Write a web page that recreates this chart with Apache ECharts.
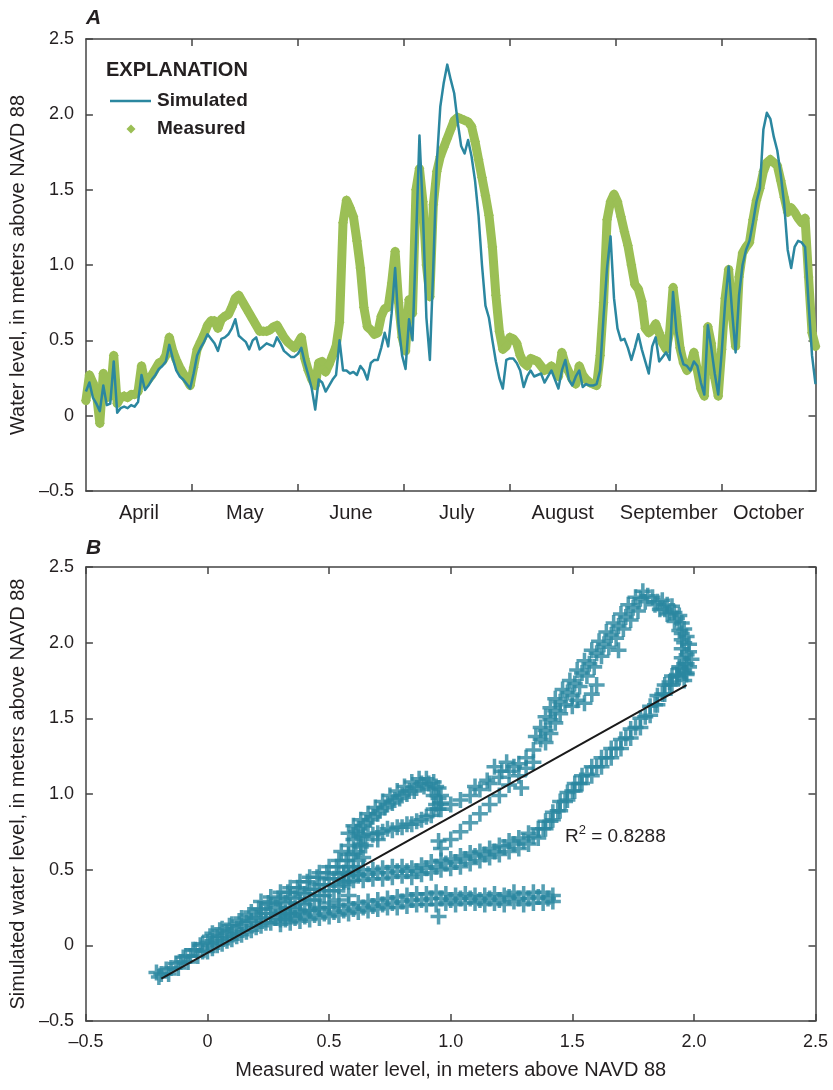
<!DOCTYPE html>
<html><head><meta charset="utf-8">
<script src="https://cdn.jsdelivr.net/npm/echarts@6/dist/echarts.min.js"></script>
<style>html,body{margin:0;padding:0;background:#fff}#c{width:833px;height:1090px}</style>
</head><body><div id="c"></div>
<script>
// ---- data: panel A ----
const monthLabels = ['April','May','June','July','August','September','October'];
const monthTickDays = [30.5, 61, 91.5, 122, 152.5, 183];
const monthLabelDays = [15.25, 45.75, 76.25, 106.75, 137.25, 167.75, 196.5];

// daily values, day 0 = start of April
const simulated = [
0.16,0.22,0.12,0.08,0.03,0.20,0.07,0.08,0.36,0.02,
0.05,0.06,0.05,0.07,0.06,0.09,0.27,0.17,0.20,0.24,
0.27,0.31,0.33,0.36,0.47,0.38,0.30,0.26,0.24,0.21,
0.18,0.28,0.40,0.45,0.49,0.54,0.51,0.48,0.43,0.51,
0.52,0.54,0.58,0.64,0.53,0.51,0.49,0.44,0.50,0.52,
0.44,0.46,0.48,0.47,0.46,0.52,0.48,0.43,0.41,0.39,
0.39,0.41,0.45,0.35,0.27,0.18,0.04,0.24,0.22,0.16,
0.20,0.24,0.27,0.50,0.30,0.30,0.28,0.29,0.27,0.33,
0.30,0.24,0.35,0.37,0.37,0.45,0.55,0.46,0.68,0.98,
0.60,0.40,0.31,0.64,0.50,1.15,1.86,1.35,0.65,0.37,
1.00,1.68,2.05,2.21,2.33,2.23,2.14,1.95,1.79,1.74,
1.83,1.72,1.56,1.33,1.00,0.73,0.65,0.50,0.36,0.25,
0.18,0.37,0.38,0.38,0.35,0.30,0.19,0.26,0.30,0.26,
0.27,0.28,0.22,0.26,0.30,0.24,0.18,0.30,0.37,0.24,
0.20,0.26,0.30,0.19,0.21,0.20,0.20,0.21,0.30,0.66,
0.98,1.19,0.78,0.58,0.50,0.51,0.45,0.37,0.45,0.54,
0.44,0.36,0.28,0.46,0.52,0.36,0.39,0.42,0.37,0.82,
0.55,0.42,0.34,0.33,0.30,0.36,0.33,0.22,0.14,0.60,
0.45,0.28,0.14,0.42,0.75,0.99,0.69,0.42,0.80,1.00,
1.10,1.16,1.28,1.42,1.51,1.90,2.01,1.97,1.85,1.76,
1.60,1.40,1.10,0.98,1.12,1.16,1.15,1.12,0.75,0.40,
0.21];

const measured = [
0.10,0.27,0.22,0.15,-0.05,0.28,0.12,0.13,0.40,0.08,
0.12,0.13,0.12,0.14,0.14,0.16,0.33,0.22,0.24,0.27,
0.31,0.35,0.36,0.40,0.52,0.43,0.37,0.32,0.28,0.24,
0.20,0.32,0.44,0.49,0.54,0.60,0.63,0.63,0.58,0.64,
0.66,0.67,0.72,0.78,0.80,0.76,0.72,0.68,0.64,0.60,
0.56,0.56,0.56,0.57,0.59,0.60,0.56,0.52,0.49,0.47,
0.45,0.48,0.52,0.38,0.30,0.24,0.20,0.35,0.36,0.29,
0.34,0.40,0.46,0.62,1.28,1.43,1.38,1.32,1.16,0.98,
0.72,0.59,0.57,0.54,0.55,0.66,0.71,0.72,0.88,1.09,
0.75,0.52,0.43,0.77,0.68,1.50,1.64,1.42,1.00,0.79,
1.40,1.62,1.72,1.78,1.84,1.90,1.96,1.98,1.97,1.96,
1.95,1.92,1.82,1.70,1.58,1.46,1.33,1.12,0.80,0.56,
0.44,0.46,0.52,0.51,0.48,0.40,0.35,0.33,0.38,0.37,
0.36,0.33,0.30,0.31,0.33,0.30,0.26,0.42,0.34,0.29,
0.24,0.21,0.33,0.27,0.24,0.22,0.21,0.20,0.40,0.75,
1.30,1.42,1.47,1.42,1.32,1.22,1.13,1.00,0.87,0.84,
0.76,0.58,0.55,0.57,0.61,0.55,0.48,0.44,0.55,0.85,
0.66,0.45,0.35,0.30,0.34,0.42,0.30,0.18,0.13,0.59,
0.48,0.25,0.13,0.44,0.78,0.97,0.68,0.46,0.92,1.08,
1.12,1.15,1.30,1.43,1.51,1.62,1.68,1.70,1.68,1.66,
1.56,1.45,1.35,1.38,1.35,1.31,1.28,1.31,0.92,0.55,
0.46];

// ---- data: panel B, [measured, simulated] pairs ----
const scatterDiagonal = [
[-0.21,-0.18],[-0.20,-0.21],[-0.17,-0.16],[-0.16,-0.19],[-0.13,-0.12],[-0.12,-0.15],[-0.09,-0.07],[-0.08,-0.11],
[-0.05,-0.03],[-0.04,-0.07],[-0.03,0.00],
[0.00,-0.04],[0.00,0.02],[0.01,0.06],[0.04,0.00],[0.04,0.05],[0.05,0.10],
[0.08,0.03],[0.08,0.08],[0.09,0.13],[0.12,0.06],[0.12,0.11],[0.13,0.16],
[0.16,0.09],[0.16,0.15],[0.17,0.20],[0.20,0.12],[0.20,0.18],[0.21,0.24],
[0.24,0.15],[0.24,0.21],[0.25,0.28],[0.28,0.18],[0.28,0.25],[0.29,0.31],
[0.32,0.21],[0.32,0.28],[0.33,0.35],[0.36,0.24],[0.36,0.31],[0.37,0.38],
[0.40,0.27],[0.40,0.34],[0.41,0.42],[0.44,0.30],[0.44,0.37],[0.45,0.45],
[0.48,0.33],[0.48,0.40],[0.49,0.48],[0.52,0.36],[0.52,0.44],[0.53,0.52],
[0.56,0.40],[0.56,0.48],[0.57,0.56],[0.60,0.52],[0.61,0.62],[0.58,0.60],
[0.64,0.58],[0.65,0.66],[0.55,0.62],
[-0.19,-0.19],[-0.15,-0.15],[-0.11,-0.11],[-0.10,-0.08],[-0.07,-0.07],[-0.06,-0.03],[-0.02,-0.04],[-0.02,0.01],
[0.02,-0.02],[0.02,0.03],[0.02,0.08],[0.06,0.01],[0.06,0.06],[0.06,0.11],[0.10,0.04],[0.10,0.09],[0.10,0.14],
[0.14,0.07],[0.14,0.13],[0.14,0.18],[0.18,0.10],[0.18,0.16],[0.18,0.22],
[0.22,0.13],[0.22,0.18],[0.22,0.24],[0.22,0.29],[0.26,0.15],[0.26,0.21],[0.26,0.27],[0.26,0.32],
[0.30,0.17],[0.30,0.23],[0.30,0.29],[0.30,0.35],[0.34,0.19],[0.34,0.25],[0.34,0.32],[0.34,0.38],
[0.38,0.21],[0.38,0.28],[0.38,0.35],[0.38,0.42],[0.42,0.23],[0.42,0.30],[0.42,0.37],[0.42,0.45],
[0.46,0.25],[0.46,0.33],[0.46,0.40],[0.46,0.48],[0.50,0.28],[0.50,0.36],[0.50,0.44],[0.50,0.52],
[0.54,0.30],[0.54,0.39],[0.54,0.47],[0.54,0.56],[0.58,0.33],[0.58,0.42],[0.58,0.52],[0.60,0.60],
[0.62,0.46],[0.62,0.56],[0.63,0.65]
];
const scatterLowBranch = [
[0.30,0.14],[0.30,0.20],[0.34,0.15],[0.34,0.21],[0.38,0.16],[0.38,0.22],[0.42,0.17],[0.42,0.23],
[0.46,0.18],[0.46,0.24],[0.50,0.19],[0.50,0.25],[0.54,0.20],[0.54,0.26],[0.58,0.21],[0.58,0.27],
[0.62,0.22],[0.62,0.28],[0.66,0.23],[0.66,0.29],[0.70,0.24],[0.70,0.30],[0.74,0.25],[0.74,0.31],
[0.78,0.25],[0.78,0.32],[0.82,0.26],[0.82,0.33],[0.86,0.27],[0.86,0.34],[0.90,0.27],[0.90,0.34],
[0.94,0.27],[0.94,0.35],[0.98,0.28],[0.98,0.34],[1.02,0.27],[1.02,0.33],[1.06,0.28],[1.06,0.34],
[1.10,0.28],[1.10,0.33],[1.14,0.27],[1.14,0.33],[1.18,0.28],[1.18,0.34],[1.22,0.27],[1.22,0.33],
[1.26,0.29],[1.26,0.35],[1.30,0.27],[1.30,0.34],[1.34,0.28],[1.34,0.35],[1.38,0.28],[1.38,0.35],
[1.42,0.29],[1.42,0.33],[0.95,0.19],
[0.32,0.17],[0.36,0.18],[0.40,0.19],[0.44,0.20],[0.48,0.21],[0.52,0.22],[0.56,0.23],[0.60,0.24],
[0.64,0.25],[0.68,0.26],[0.72,0.27],[0.76,0.28],[0.80,0.29],[0.84,0.30],[0.88,0.30],[0.92,0.31],
[0.96,0.31],[1.00,0.30],[1.04,0.31],[1.08,0.31],[1.12,0.30],[1.16,0.31],[1.20,0.30],[1.24,0.32],
[1.28,0.31],[1.32,0.31],[1.36,0.32],[1.40,0.31]
];
const scatterMiddleBranch = [
[0.56,0.42],[0.56,0.48],[0.60,0.43],[0.60,0.49],[0.64,0.43],[0.64,0.50],[0.68,0.44],[0.68,0.50],
[0.72,0.44],[0.72,0.51],[0.76,0.45],[0.76,0.52],[0.80,0.46],[0.80,0.52],[0.84,0.45],[0.84,0.51],
[0.88,0.47],[0.88,0.53],[0.92,0.48],[0.92,0.55],[0.96,0.50],[0.96,0.56],[1.00,0.51],[1.00,0.57],
[1.04,0.52],[1.04,0.59],[1.08,0.54],[1.08,0.61],[1.12,0.56],[1.12,0.62],[1.16,0.58],[1.16,0.64],
[1.20,0.60],[1.20,0.66],[1.24,0.62],[1.24,0.69],[1.28,0.64],[1.28,0.71],[1.32,0.67],[1.32,0.74],
[1.36,0.71],[1.36,0.77],[1.39,0.77],[1.39,0.82],[1.42,0.83],[1.42,0.88],[1.45,0.89],[1.45,0.95],
[1.48,0.96],[1.48,1.01],[1.51,1.02],[1.51,1.07],[1.54,1.07],[1.54,1.12],[1.58,1.12],[1.58,1.18],
[1.62,1.18],[1.62,1.24],[1.66,1.24],[1.66,1.30],[1.70,1.30],[1.70,1.36],[1.74,1.37],[1.74,1.43],
[1.78,1.44],[1.78,1.50],[1.82,1.52],[1.82,1.58],[1.85,1.59],[1.85,1.65],[1.88,1.66],[1.88,1.72],
[1.91,1.72],[1.91,1.78],[1.94,1.77],[1.94,1.83],[1.97,1.80],[1.97,1.86],
[0.58,0.46],[0.62,0.47],[0.66,0.47],[0.70,0.48],[0.74,0.48],[0.78,0.49],[0.82,0.49],[0.86,0.49],
[0.90,0.51],[0.94,0.52],[0.98,0.54],[1.02,0.55],[1.06,0.57],[1.10,0.59],[1.14,0.60],[1.18,0.62],
[1.22,0.65],[1.26,0.67],[1.30,0.69],[1.34,0.72],[1.38,0.77],[1.41,0.82],[1.44,0.89],[1.47,0.95],
[1.50,1.02],[1.53,1.07],[1.56,1.13],[1.60,1.18],[1.64,1.24],[1.68,1.30],[1.72,1.37],[1.76,1.44],
[1.80,1.51],[1.84,1.59],[1.87,1.66],[1.90,1.72],[1.93,1.78],[1.96,1.82]
];
const scatterLoop = [
[0.58,0.74],[0.60,0.79],[0.63,0.83],[0.66,0.87],[0.69,0.91],[0.72,0.95],[0.75,0.99],[0.78,1.02],
[0.81,1.05],[0.84,1.08],[0.87,1.10],[0.90,1.10],[0.93,1.08],[0.95,1.04],[0.96,0.99],[0.96,0.94],[0.95,0.90],
[0.62,0.77],[0.65,0.81],[0.68,0.85],[0.71,0.89],[0.74,0.93],[0.77,0.96],[0.80,0.99],[0.83,1.02],
[0.86,1.04],[0.89,1.05],[0.92,1.03],[0.93,0.99],
[0.60,0.70],[0.64,0.72],[0.68,0.73],[0.72,0.75],[0.76,0.76],[0.80,0.78],[0.84,0.80],[0.88,0.83],
[0.92,0.86],[0.63,0.67],[0.70,0.70],[0.58,0.66],
[0.61,0.75],[0.64,0.79],[0.67,0.83],[0.70,0.87],[0.73,0.91],[0.76,0.94],[0.79,0.97],[0.82,1.00],
[0.85,1.02],[0.88,1.07],[0.91,1.07],[0.94,1.05],[0.95,0.97],[0.94,0.93],[0.93,0.90],
[0.62,0.72],[0.66,0.74],[0.70,0.74],[0.74,0.77],[0.78,0.78],[0.82,0.80],[0.86,0.82],[0.90,0.85]
];
const scatterUpperBranch = [
[0.96,0.90],[1.00,0.93],[1.04,0.96],[1.08,0.99],[1.12,1.03],[1.16,1.07],[1.20,1.11],[1.24,1.15],
[1.28,1.20],[1.31,1.24],[1.34,1.29],
[1.35,1.38],[1.39,1.34],[1.37,1.44],[1.41,1.40],[1.39,1.51],[1.43,1.47],[1.41,1.57],[1.45,1.53],
[1.43,1.63],[1.47,1.59],[1.46,1.69],[1.50,1.65],[1.49,1.75],[1.53,1.71],[1.52,1.82],[1.56,1.78],
[1.55,1.88],[1.59,1.84],[1.58,1.95],[1.62,1.91],[1.61,2.01],[1.65,1.97],[1.64,2.07],[1.68,2.03],
[1.67,2.13],[1.71,2.09],[1.70,2.19],[1.74,2.15],[1.73,2.25],[1.77,2.21],[1.76,2.30],[1.80,2.27],
[1.79,2.34],[1.81,2.31],
[1.83,2.30],[1.85,2.27],[1.87,2.28],[1.89,2.25],[1.91,2.24],[1.92,2.20],[1.94,2.18],[1.95,2.13],
[1.96,2.09],[1.97,2.04],[1.98,1.99],[1.98,1.94],[1.99,1.89],[1.98,1.84],[1.97,1.79],[1.96,1.75],
[1.86,2.22],[1.89,2.19],[1.92,2.14],[1.94,2.08],[1.95,2.02],[1.95,1.96],[1.95,1.90],[1.94,1.84],
[1.52,1.62],[1.55,1.60],[1.58,1.66],[1.50,1.58],[1.60,1.72],[1.69,1.95],
[1.37,1.36],[1.39,1.42],[1.41,1.49],[1.43,1.55],[1.45,1.61],[1.48,1.67],[1.51,1.73],[1.54,1.80],
[1.57,1.86],[1.60,1.93],[1.63,1.99],[1.66,2.05],[1.69,2.11],[1.72,2.17],[1.75,2.23],[1.78,2.29],
[1.84,2.25],[1.88,2.22],[1.90,2.20],[1.93,2.16],[1.95,2.06],[1.96,2.00],[1.97,1.92],[1.96,1.86],
[1.96,1.80],[1.93,1.79],[1.90,1.74]
];
const scatterSparse = [
[0.95,0.69],[0.96,0.64],[1.00,0.70],[1.04,0.75],[1.08,0.81],[1.12,0.87],[1.16,0.93],[1.20,0.99],
[1.24,1.06],[1.28,1.12],[1.31,1.17],[1.34,1.21],[1.10,1.05],[1.15,1.09],[1.21,1.15],[1.26,1.18],
[1.18,1.18],[1.23,1.21],[1.29,1.04]
];

const regressionLine = [[-0.19, -0.22], [1.97, 1.72]];
const rSquaredText = '0.8288';
const rSquaredAnchor = [1.47, 0.72];

// ---- styling ----
const FONT = "'Liberation Sans', Arial, sans-serif";
const TXT = '#231f20';
const AX = '#444444';
const BLUE = '#2b87a0';
const GREEN = '#9bbf55';
const lineSty = {color: AX, width: 1.5};
const PLUS = 'path://M3.9,0H6.1V3.9H10V6.1H6.1V10H3.9V6.1H0V3.9H3.9Z';

const tickFmt = v => {
  if (Math.abs(v) < 1e-9) return '0';
  const s = Math.abs(v).toFixed(1);
  return v < 0 ? '\u2013' + s : s;
};
const nearestIdx = (arr, v) => {
  let bi = 0, bd = Infinity;
  arr.forEach((a, i) => { const d = Math.abs(a - v); if (d < bd) { bd = d; bi = i; } });
  return bi;
};
function valAxis(extra) {
  return Object.assign({
    type: 'value', splitLine: {show: false},
    axisLine: {show: true, onZero: false, lineStyle: lineSty},
    axisTick: {show: true, inside: true, length: 7, lineStyle: lineSty},
    axisLabel: {show: false}
  }, extra);
}
const tickLabel = {show: true, formatter: tickFmt, margin: 12, fontSize: 18, color: TXT, fontFamily: FONT};
const nameStyle = {fontSize: 20, color: TXT, fontFamily: FONT};

const chart = echarts.init(document.getElementById('c'), null, {renderer: 'canvas', width: 833, height: 1090});

const legendGraphics = [
  {type: 'text', left: 106, top: 60, style: {text: 'EXPLANATION', font: 'bold 20px ' + FONT, fill: TXT}},
  {type: 'line', shape: {x1: 110, y1: 101, x2: 151, y2: 101}, style: {stroke: BLUE, lineWidth: 2.5}},
  {type: 'text', x: 157, y: 101, style: {text: 'Simulated', font: 'bold 19px ' + FONT, fill: TXT, verticalAlign: 'middle'}},
  {type: 'polygon', shape: {points: [[131, 124.5], [135.5, 129], [131, 133.5], [126.5, 129]]}, style: {fill: GREEN}},
  {type: 'text', x: 157, y: 129, style: {text: 'Measured', font: 'bold 19px ' + FONT, fill: TXT, verticalAlign: 'middle'}}
];

const scatterAll = [].concat(scatterDiagonal, scatterLowBranch, scatterMiddleBranch, scatterLoop, scatterUpperBranch, scatterSparse);

const option = {
  animation: false,
  backgroundColor: '#ffffff',
  title: [
    {text: 'A', left: 86, top: 8, padding: 0, textStyle: {fontSize: 21, fontWeight: 'bold', fontStyle: 'italic', color: TXT, fontFamily: FONT}},
    {text: 'B', left: 86, top: 538, padding: 0, textStyle: {fontSize: 21, fontWeight: 'bold', fontStyle: 'italic', color: TXT, fontFamily: FONT}}
  ],
  grid: [
    {left: 85, top: 39, width: 730.5, height: 452, show: false},
    {left: 85, top: 567, width: 730.5, height: 454, show: false}
  ],
  xAxis: [
    valAxis({gridIndex: 0, min: 0, max: 210, position: 'bottom',
      axisTick: {show: true, inside: true, length: 7, lineStyle: lineSty, customValues: monthTickDays},
      axisLabel: {show: true, customValues: monthLabelDays, formatter: v => monthLabels[nearestIdx(monthLabelDays, v)],
        margin: 12, fontSize: 20, color: TXT, fontFamily: FONT}}),
    valAxis({gridIndex: 0, min: 0, max: 210, position: 'top',
      axisTick: {show: true, inside: true, length: 7, lineStyle: lineSty, customValues: monthTickDays}}),
    valAxis({gridIndex: 1, min: -0.5, max: 2.5, interval: 0.5, position: 'bottom',
      name: 'Measured water level, in meters above NAVD 88', nameLocation: 'middle', nameGap: 39, nameTextStyle: nameStyle,
      axisLabel: tickLabel}),
    valAxis({gridIndex: 1, min: -0.5, max: 2.5, interval: 0.5, position: 'top'})
  ],
  yAxis: [
    valAxis({gridIndex: 0, min: -0.5, max: 2.5, interval: 0.5, position: 'left',
      name: 'Water level, in meters above NAVD 88', nameLocation: 'middle', nameGap: 52, nameTextStyle: nameStyle,
      axisLabel: tickLabel}),
    valAxis({gridIndex: 0, min: -0.5, max: 2.5, interval: 0.5, position: 'right'}),
    valAxis({gridIndex: 1, min: -0.5, max: 2.5, interval: 0.5, position: 'left',
      name: 'Simulated water level, in meters above NAVD 88', nameLocation: 'middle', nameGap: 53, nameTextStyle: nameStyle,
      axisLabel: tickLabel}),
    valAxis({gridIndex: 1, min: -0.5, max: 2.5, interval: 0.5, position: 'right'})
  ],
  graphic: legendGraphics,
  series: [
    {type: 'line', name: 'Measured', xAxisIndex: 0, yAxisIndex: 0,
      data: measured.map((v, i) => [i, v]), symbol: 'diamond', symbolSize: 10,
      showSymbol: true, showAllSymbol: true,
      lineStyle: {color: GREEN, width: 9, join: 'round', cap: 'round'},
      itemStyle: {color: GREEN}, z: 2},
    {type: 'line', name: 'Simulated', xAxisIndex: 0, yAxisIndex: 0,
      data: simulated.map((v, i) => [i, v]), symbol: 'none', showSymbol: false,
      lineStyle: {color: BLUE, width: 2.5, join: 'round'}, itemStyle: {color: BLUE}, z: 3},
    {type: 'scatter', name: 'Simulated vs. measured', xAxisIndex: 2, yAxisIndex: 2,
      data: scatterAll, symbol: PLUS, symbolSize: 16,
      itemStyle: {color: BLUE}, z: 3},
    {type: 'line', name: 'Regression', xAxisIndex: 2, yAxisIndex: 2,
      data: regressionLine, symbol: 'none', showSymbol: false,
      lineStyle: {color: '#1a1a1a', width: 2}, z: 4}
  ]
};
chart.setOption(option);

const p = chart.convertToPixel({xAxisIndex: 2, yAxisIndex: 2}, rSquaredAnchor);
chart.setOption({
  graphic: legendGraphics.concat([
    {type: 'text', x: p[0], y: p[1], z: 10, style: {
      text: '{r|R}{s|2}{r| = ' + rSquaredText + '}',
      verticalAlign: 'middle', align: 'left',
      rich: {
        r: {fontSize: 19, fontFamily: FONT, fill: TXT, color: TXT, lineHeight: 24},
        s: {fontSize: 13, fontFamily: FONT, fill: TXT, color: TXT, lineHeight: 13, verticalAlign: 'top'}
      }
    }}
  ])
});
</script>
</body></html>
